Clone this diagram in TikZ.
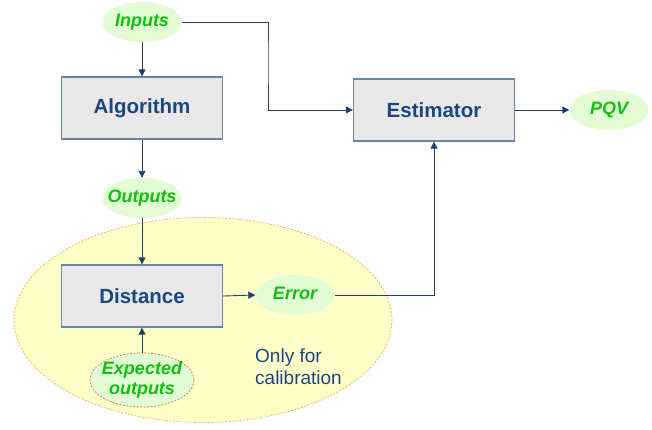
\documentclass[tikz,border=0pt]{standalone}
\usepackage{fontspec}
\setmainfont{Liberation Sans}
\usetikzlibrary{shapes.geometric,arrows.meta}
\definecolor{boxfill}{HTML}{E8E8E8}
\definecolor{boxedge}{HTML}{6A86A6}
\definecolor{boxtext}{HTML}{1B4682}
\definecolor{ovalfill}{HTML}{E2FDD4}
\definecolor{ovaltext}{HTML}{10C010}
\definecolor{linecol}{HTML}{1F3F6F}
\definecolor{calibfill}{HTML}{FFFFC8}
\definecolor{calibedge}{HTML}{F5B35E}
\definecolor{expedge}{HTML}{C08A6A}
% oval labels take no width, so the oval keeps its set size
\newcommand{\ovallabel}[1]{\makebox[0pt]{\begin{tabular}{@{}c@{}}#1\end{tabular}}}
\tikzset{
  block/.style={draw=boxedge, line width=1.3pt, fill=boxfill, minimum width=161pt,
    minimum height=62pt, inner sep=0pt, text=boxtext,
    font=\fontsize{20.5}{22}\selectfont\bfseries},
  oval/.style={ellipse, fill=ovalfill, minimum width=79pt, minimum height=40pt,
    inner sep=0pt, text=ovaltext, font=\fontsize{18}{20}\selectfont\bfseries\itshape},
  flow/.style={draw=linecol, line width=0.9pt, -{Triangle[length=7pt,width=7pt]}}
}
\begin{document}
\begin{tikzpicture}[x=1pt, y=-1pt]
\useasboundingbox (0,0) rectangle (652,429);

% calibration region
\node[ellipse, draw=calibedge, dashed, dash pattern=on 2pt off 1.5pt, line width=0.8pt,
  fill=calibfill, minimum width=378pt, minimum height=205pt] (calib) at (203,320) {};

% blocks
\node[block] (algo) at (142,108) {Algorithm};
\node[block] (est) at (434,110) {Estimator};
\node[block] (dist) at (142,296) {Distance};

% data ovals
\node[oval] (inputs) at (142,22) {\ovallabel{Inputs}};
\node[oval] (outputs) at (142,198) {\ovallabel{Outputs}};
\node[oval] (pqv) at (609,110) {\ovallabel{PQV}};
\node[oval] (error) at (295,295) {\ovallabel{Error}};
\node[oval, draw=expedge, dashed, dash pattern=on 2pt off 1.5pt, line width=0.8pt,
  minimum width=104pt, minimum height=54pt, inner ysep=-10pt] (expected) at (142,380)
  {\ovallabel{Expected\\outputs}};

% note
\node[anchor=north west, align=left, text=boxtext, inner sep=0pt,
  font=\fontsize{19}{22}\selectfont] (note) at (255,349) {Only for\\calibration};

% connectors
\coordinate (turn) at (268,60);
\draw[flow] (inputs.south) -- (algo.north);
\draw[flow] (algo.south) -- (outputs.north);
\draw[flow] (outputs.south) -- (dist.north);
\draw[flow] (expected.north) -- (dist.south);
\draw[flow] (dist.east) -- (error.west);
\draw[flow] (inputs.east) -| (turn) |- (est.west);
\draw[flow] (error.east) -| (est.south);
\draw[flow] (est.east) -- (pqv.west);
\end{tikzpicture}
\end{document}
